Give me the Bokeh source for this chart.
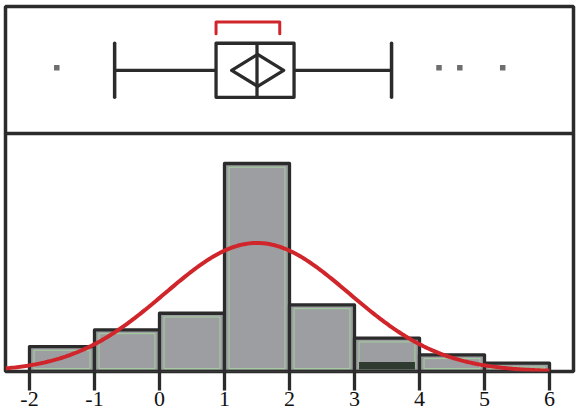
import numpy as np
from bokeh.plotting import figure
from bokeh.models import Span, FixedTicker
from bokeh.embed import file_html
from bokeh.resources import INLINE

# ---- data ----
bin_left = [-2, -1, 0, 1, 2, 3, 4, 5]
bin_right = [-1, 0, 1, 2, 3, 4, 5, 6]
counts = [3, 5, 7, 25, 8, 4, 2, 1]
sub_counts = [0, 0, 0, 0, 0, 1, 0, 0]   # darker inner band

fit_mean = 1.5
fit_sd = 1.42
n_obs = sum(counts)

q1, median, q3 = 0.87, 1.50, 2.07
whisker_lo, whisker_hi = -0.69, 3.57
outliers = [-1.58, 4.30, 4.62, 5.28]
mean_val, ci_lo, ci_hi = 1.51, 1.11, 1.91
shortest_lo, shortest_hi = 0.87, 1.85

tick_vals = [-2, -1, 0, 1, 2, 3, 4, 5, 6]
tick_labels = ["-2", "-1", "0", "1", "2", "3", "4", "5", "6"]

# ---- styling / layout constants ----
DARK = "#2b2b2b"
RED = "#d0262b"
GRAY = "#9c9ea1"
GREEN = "#a6dc9c"

Y_TOP = 43.87
DIVIDER = 28.6
BOX_Y = 36.2
BOX_H = 3.25
DIA_H = 1.92

p = figure(width=583, height=416, output_backend="svg",
           toolbar_location=None, x_range=(-2.369, 6.369), y_range=(0, Y_TOP),
           min_border_left=5, min_border_right=10, min_border_top=6, min_border_bottom=45)
p.outline_line_color = DARK
p.outline_line_width = 3.5
p.xgrid.visible = False
p.ygrid.visible = False
p.yaxis.visible = False
p.background_fill_color = "white"

# histogram
p.quad(left=bin_left, right=bin_right, bottom=0, top=counts,
       fill_color=GRAY, line_color=DARK, line_width=3.3, line_join="round")
inset_x = 0.07
p.quad(left=[l + inset_x for l in bin_left], right=[r - inset_x for r in bin_right],
       bottom=0.35, top=[c - 0.45 for c in counts],
       fill_color=None, line_color=GREEN, line_width=1, line_alpha=0.8)
sub_l = [l + inset_x for l, s in zip(bin_left, sub_counts) if s > 0]
sub_r = [r - inset_x for r, s in zip(bin_right, sub_counts) if s > 0]
sub_t = [s + 0.15 for s in sub_counts if s > 0]
p.quad(left=sub_l, right=sub_r, bottom=0.25, top=sub_t,
       fill_color="#2f3a31", line_color=None)

# normal fit curve
xs = np.linspace(-2.369, 6.0, 300)
ys = n_obs * 1.0 / (fit_sd * np.sqrt(2 * np.pi)) * np.exp(-0.5 * ((xs - fit_mean) / fit_sd) ** 2)
p.line(xs, ys, line_color=RED, line_width=4)

# divider between panels
p.add_layout(Span(location=DIVIDER, dimension="width", line_color=DARK, line_width=3.5))

# box plot
p.segment(x0=[whisker_lo, q3], y0=[BOX_Y, BOX_Y], x1=[q1, whisker_hi], y1=[BOX_Y, BOX_Y],
          line_color=DARK, line_width=3.3)
p.segment(x0=[whisker_lo, whisker_hi], y0=[BOX_Y - BOX_H] * 2,
          x1=[whisker_lo, whisker_hi], y1=[BOX_Y + BOX_H] * 2,
          line_color=DARK, line_width=3.5, line_cap="round")
p.quad(left=[q1], right=[q3], bottom=[BOX_Y - BOX_H], top=[BOX_Y + BOX_H],
       fill_color="white", line_color=DARK, line_width=3.3, line_join="round")
p.segment(x0=[median], y0=[BOX_Y - BOX_H], x1=[median], y1=[BOX_Y + BOX_H],
          line_color=DARK, line_width=3.3)
p.patch(x=[ci_lo, mean_val, ci_hi, mean_val, ci_lo],
        y=[BOX_Y, BOX_Y + DIA_H, BOX_Y, BOX_Y - DIA_H, BOX_Y],
        fill_color=None, line_color=DARK, line_width=3.3, line_join="round")
p.scatter(x=outliers, y=[BOX_Y + 0.3] * len(outliers), marker="square", size=5.5,
          fill_color="#6e6e6e", line_color=None)
# shortest half bracket
p.line(x=[shortest_lo, shortest_lo, shortest_hi, shortest_hi],
       y=[BOX_Y + 4.4, BOX_Y + 5.8, BOX_Y + 5.8, BOX_Y + 4.4],
       line_color=RED, line_width=3, line_join="round", line_cap="round")

# x axis
p.xaxis.ticker = FixedTicker(ticks=tick_vals)
p.xaxis.major_label_overrides = {v: s for v, s in zip(tick_vals, tick_labels)}
p.xaxis.axis_line_color = None
p.xaxis.major_tick_line_color = DARK
p.xaxis.major_tick_line_width = 3.3
p.xaxis.major_tick_out = 19
p.xaxis.major_tick_in = 0
p.xaxis.minor_tick_line_color = None
p.xaxis.major_label_text_font = "'Liberation Serif', 'Times New Roman', serif"
p.xaxis.major_label_text_font_size = "22px"
p.xaxis.major_label_text_color = "#111111"
p.xaxis.major_label_standoff = 1

open("out.html", "w").write(file_html(p, INLINE))
